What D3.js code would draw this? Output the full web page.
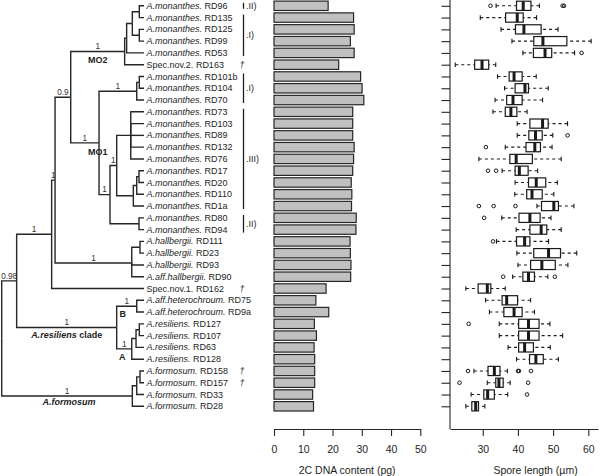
<!DOCTYPE html>
<html>
<head>
<meta charset="utf-8">
<script src="https://cdn.jsdelivr.net/npm/d3@7"></script>
<style>
  body { margin: 0; background: #fff; }
  svg { display: block; font-family: "Liberation Sans", Arial, sans-serif; }
</style>
</head>
<body>
<div id="chart"></div>
<script>
// taxa, top to bottom
const taxonCodes = ["RD96", "RD135", "RD125", "RD99", "RD53", "RD163", "RD101b", "RD104", "RD70",
  "RD73", "RD103", "RD89", "RD132", "RD76", "RD17", "RD20", "RD110", "RD1a", "RD80", "RD94",
  "RD111", "RD23", "RD93", "RD90", "RD162", "RD75", "RD9a", "RD127", "RD107", "RD63", "RD128",
  "RD158", "RD157", "RD33", "RD28"];
const taxonNames = ["A.monanthes.", "A.monanthes.", "A.monanthes.", "A.monanthes.", "A.monanthes.",
  "Spec.nov.2.", "A.monanthes.", "A.monanthes.", "A.monanthes.", "A.monanthes.", "A.monanthes.",
  "A.monanthes.", "A.monanthes.", "A.monanthes.", "A.monanthes.", "A.monanthes.", "A.monanthes.",
  "A.monanthes.", "A.monanthes.", "A.monanthes.", "A.hallbergii.", "A.hallbergii.", "A.hallbergii.",
  "A.aff.hallbergii.", "Spec.nov.1.", "A.aff.heterochroum.", "A.aff.heterochroum.", "A.resiliens.",
  "A.resiliens.", "A.resiliens.", "A.resiliens.", "A.formosum.", "A.formosum.", "A.formosum.",
  "A.formosum."];

// 2C DNA content (pg)
const dnaContent = [18.5, 27.2, 27.4, 26.1, 27.4, 22.1, 29.6, 30.1, 30.7, 26.9, 26.9, 26.9, 27.4,
  27.2, 26.9, 26.4, 26.6, 26.5, 28.1, 28.0, 26.0, 26.1, 26.3, 26.2, 17.8, 14.3, 18.7, 13.8, 14.5,
  13.7, 13.9, 13.9, 13.9, 13.2, 13.5];

// spore length (um) boxplot stats
const sporeLow = [33.8, 29.3, 35.2, 38.3, 41.4, 22.2, 34.2, 36.2, 33.5, 32.9, 39.8, 39.8, 36.4, 28.9,
  35.5, 39.2, 39.1, 45.4, 35.4, 39.5, 33.9, 39.7, 40.0, 38.5, 25.2, 30.8, 31.9, 34.7, 34.7, 37.2,
  39.6, 27.5, 31.3, 26.7, 25.2];
const sporeQ1 = [39.6, 36.5, 39.3, 44.5, 44.4, 27.7, 37.5, 39.2, 36.8, 36.4, 43.4, 43.1, 42.3, 37.7,
  39.2, 43.0, 42.5, 46.7, 40.3, 43.4, 39.6, 44.5, 43.6, 41.4, 28.7, 35.5, 36.0, 40.2, 40.2, 40.2,
  43.3, 31.5, 33.7, 30.3, 26.9];
const sporeMedian = [41.5, 39.8, 41.7, 47.1, 47.7, 29.8, 38.9, 42.0, 38.6, 38.0, 47.0, 45.0, 44.8,
  39.5, 40.4, 45.2, 44.0, 50.2, 43.4, 46.6, 41.9, 48.7, 46.8, 43.0, 31.3, 36.8, 38.9, 43.0, 43.0,
  41.9, 45.1, 33.3, 34.6, 31.4, 28.0];
const sporeQ3 = [43.7, 41.5, 46.6, 53.9, 49.6, 31.7, 41.2, 43.0, 41.2, 39.7, 48.6, 46.9, 46.4, 44.1,
  42.9, 47.9, 46.9, 51.5, 46.3, 48.2, 43.4, 52.1, 50.6, 44.7, 32.3, 39.9, 41.2, 46.0, 46.0, 44.4,
  47.2, 34.9, 35.8, 33.3, 28.8];
const sporeHigh = [46.1, 45.3, 51.4, 60.8, 56.1, 33.7, 45.2, 48.6, 47.0, 42.6, 54.1, 49.9, 49.7, 52.3,
  45.6, 51.2, 50.2, 55.9, 49.4, 52.3, 48.7, 56.7, 54.2, 48.5, 36.4, 43.6, 44.7, 49.1, 52.7, 49.2,
  51.5, 37.0, 37.8, 37.1, 30.6];
const sporeOutliers = [[32.2, 52.7, 53.1], [], [], [], [58.1], [], [], [], [], [], [], [54.1], [30.9],
  [], [31.5, 33.8], [], [], [28.9, 33.1, 39.3], [30.4], [], [32.9], [], [], [35.8, 50.5], [], [], [],
  [26.0], [], [], [], [25.8, 40.0, 40.3, 43.7], [23.4, 42.9], [42.6], []];

// phylogeny: support values as node labels, branch lengths in % of root-to-tip depth
const treeNewick = "(((((((((RD96:3.3,RD135:3.3):4.9,(RD125:3.3,RD99:3.3):4.9):4.0,RD53:12.2):1.4,RD163:13.6)1:37.9," +
  "(((RD101b:3.3,RD104:3.3):1.8,RD70:5.1)1:26.5,(((RD73:9.3,RD103:9.3,RD89:9.3,RD132:9.3,RD76:9.3):9.9," +
  "(((RD17:3.5,RD20:3.5):1.6,RD110:5.1):2.4,RD1a:7.5):11.7)1:4.7,(RD80:3.5,RD94:3.5):20.4)1:7.7)1:19.9)0.9:11.0," +
  "((RD111:2.8,RD23:2.8):5.8,RD93:8.6,RD90:8.6)1:53.9)1:2.4,RD162:64.9)1:24.6," +
  "((RD75:5.1,RD9a:5.1)1:14.1,(((RD127:3.3,RD107:3.3):2.3,RD63:5.6):3.0,RD128:8.6)1:10.6)1:70.3)0.98:10.5," +
  "(((RD158:2.8,RD157:2.8):2.3,RD33:5.1):3.1,RD28:8.2)1:91.8);";

const cladeNames = ["MO2", "MO1", "A.resiliens clade", "A.formosum", "B", "A"];
const cladeFirst = ["RD96", "RD101b", "RD75", "RD158", "RD75", "RD127"];
const cladeLast = ["RD163", "RD94", "RD128", "RD28", "RD9a", "RD128"];

const groupNames = [".II)", ".I)", ".I)", ".III)", ".II)"];
const groupFirst = ["RD96", "RD135", "RD101b", "RD73", "RD80"];
const groupLast = ["RD96", "RD53", "RD70", "RD1a", "RD94"];

const daggerTaxa = ["RD163", "RD162", "RD158", "RD157"];

const dnaTicks = [0, 10, 20, 30, 40, 50];
const sporeTicks = [30, 40, 50, 60];

const width = 600;
const height = 476;
const ink = "#1e1e1e";

const svg = d3.select("#chart").append("svg")
  .attr("width", width)
  .attr("height", height)
  .attr("viewBox", [0, 0, width, height]);

const rowY = d3.scalePoint().domain(taxonCodes).range([5.8, 406.3]);
const treeX = d3.scaleLinear().domain([0, 100]).range([1.7, 144]);
const dnaX = d3.scaleLinear().domain([0, 50]).range([274, 420.3]);
const sporeX = d3.scaleLinear().domain([20.7, 62.75]).range([450, 598]);
const axisY = 429;

// ---- tree ----
const parseNewick = (s) => {
  let i = 0;
  const readNode = () => {
    const n = { children: [] };
    if (s[i] === "(") {
      i++;
      n.children.push(readNode());
      while (s[i] === ",") { i++; n.children.push(readNode()); }
      i++;
    }
    let name = "";
    while (i < s.length && !",():;".includes(s[i])) name += s[i++];
    n.name = name;
    n.length = 0;
    if (s[i] === ":") {
      i++;
      let bl = "";
      while (i < s.length && !",();".includes(s[i])) bl += s[i++];
      n.length = +bl;
    }
    return n;
  };
  return readNode();
};

const root = d3.hierarchy(parseNewick(treeNewick), (d) => (d.children.length ? d.children : null));
root.eachBefore((n) => { n.dist = n.parent ? n.parent.dist + n.data.length : 0; });
root.eachAfter((n) => {
  n.y = n.children ? d3.mean(n.children, (c) => c.y) : rowY(n.data.name);
  n.x = treeX(n.dist);
});

svg.append("g")
  .attr("fill", "none")
  .attr("stroke", "#262626")
  .attr("stroke-width", 1.4)
  .selectAll("path")
  .data(root.descendants().filter((n) => n.parent))
  .join("path")
  .attr("d", (n) => `M${n.parent.x},${n.parent.y}V${n.y}H${n.x}`);

// support values above branches
svg.append("g")
  .attr("font-size", 8.2)
  .attr("fill", "#333")
  .attr("text-anchor", "middle")
  .selectAll("text")
  .data(root.descendants().filter((n) => n.children && n.parent && n.data.name))
  .join("text")
  .attr("x", (n) => (n.parent.x + n.x) / 2)
  .attr("y", (n) => n.y - 2.3)
  .text((n) => n.data.name);

// clade names under branches
const findLeaf = (code) => root.leaves().find((l) => l.data.name === code);
const mrca = (a, b) => findLeaf(a).ancestors().find((n) => n.leaves().includes(findLeaf(b)));
const cladeShift = { "MO2": [0, 12], "MO1": [13, 12], "A.resiliens clade": [0, 10.7],
  "A.formosum": [2, 9], "B": [-4, 10.5], "A": [-2, 11] };

cladeNames.forEach((name, i) => {
  const n = mrca(cladeFirst[i], cladeLast[i]);
  const [dx, dy] = cladeShift[name];
  const t = svg.append("text")
    .attr("x", (n.parent.x + n.x) / 2 + dx)
    .attr("y", n.y + dy)
    .attr("text-anchor", "middle")
    .attr("font-size", 9)
    .attr("font-weight", "bold")
    .attr("fill", ink);
  if (name.startsWith("A.")) {
    const parts = name.split(" ");
    t.append("tspan").attr("font-style", "italic").text(parts[0]);
    if (parts[1]) t.append("tspan").text(" " + parts[1]);
  } else {
    t.text(name);
  }
});

// tip labels
const tipText = svg.append("g")
  .attr("font-size", 9)
  .attr("fill", ink)
  .selectAll("text")
  .data(taxonCodes)
  .join("text")
  .attr("x", 146.5)
  .attr("y", (d) => rowY(d))
  .attr("dy", "0.34em");
tipText.append("tspan")
  .attr("font-style", (d, i) => (taxonNames[i].startsWith("Spec") ? "normal" : "italic"))
  .text((d, i) => taxonNames[i]);
tipText.append("tspan").text((d) => " " + d);

// daggers
svg.append("g")
  .attr("font-size", 9)
  .attr("font-style", "italic")
  .attr("fill", ink)
  .attr("text-anchor", "middle")
  .selectAll("text")
  .data(daggerTaxa)
  .join("text")
  .attr("x", 242)
  .attr("y", (d) => rowY(d))
  .attr("dy", "0.34em")
  .text("\u2020");

// group brackets
const brackets = svg.append("g");
groupNames.forEach((name, i) => {
  const y0 = rowY(groupFirst[i]) - 3;
  const y1 = rowY(groupLast[i]) + 3;
  brackets.append("line")
    .attr("x1", 243.5).attr("x2", 243.5)
    .attr("y1", y0).attr("y2", y1)
    .attr("stroke", ink).attr("stroke-width", 1.3);
  brackets.append("text")
    .attr("x", 246)
    .attr("y", (y0 + y1) / 2)
    .attr("dy", "0.34em")
    .attr("font-size", 9)
    .attr("fill", ink)
    .text(name);
});

// ---- DNA bars ----
svg.append("g")
  .selectAll("rect")
  .data(dnaContent)
  .join("rect")
  .attr("x", dnaX(0))
  .attr("y", (d, i) => rowY(taxonCodes[i]) - 4.7)
  .attr("width", (d) => dnaX(d) - dnaX(0))
  .attr("height", 9.4)
  .attr("fill", "#c0c0c0")
  .attr("stroke", "#262626")
  .attr("stroke-width", 1.2);

const styleAxis = (g) => {
  g.attr("font-family", null).attr("font-size", 10.5);
  g.selectAll("path, line").attr("stroke", "#262626").attr("stroke-width", 1.1);
  g.selectAll("text").attr("fill", ink);
};

svg.append("g")
  .attr("transform", `translate(0,${axisY})`)
  .call(d3.axisBottom(dnaX).tickValues(dnaTicks).tickSize(7).tickSizeOuter(0).tickPadding(10))
  .call(styleAxis);

svg.append("text")
  .attr("x", (dnaX(0) + dnaX(50)) / 2)
  .attr("y", 474)
  .attr("text-anchor", "middle")
  .attr("font-size", 10.5)
  .attr("fill", ink)
  .text("2C DNA content (pg)");

// ---- spore boxplots ----
svg.append("g")
  .attr("transform", `translate(0,${axisY})`)
  .call(d3.axisBottom(sporeX).tickValues(sporeTicks).tickSize(7).tickSizeOuter(0).tickPadding(10))
  .call(styleAxis);

svg.append("line")
  .attr("x1", sporeX.range()[0]).attr("x2", sporeX.range()[0])
  .attr("y1", 0).attr("y2", axisY)
  .attr("stroke", "#262626").attr("stroke-width", 1.1);

svg.append("g")
  .attr("transform", `translate(${sporeX.range()[0]},0)`)
  .call(d3.axisLeft(rowY).tickSize(8.5).tickFormat(""))
  .call((g) => g.select(".domain").remove())
  .call(styleAxis);

svg.append("text")
  .attr("x", (sporeX(30) + sporeX(60)) / 2)
  .attr("y", 474)
  .attr("text-anchor", "middle")
  .attr("font-size", 10.5)
  .attr("fill", ink)
  .text("Spore length (\u00b5m)");

const boxes = taxonCodes.map((code, i) => ({
  y: rowY(code), lo: sporeLow[i], q1: sporeQ1[i], med: sporeMedian[i],
  q3: sporeQ3[i], hi: sporeHigh[i], out: sporeOutliers[i],
}));

const box = svg.append("g")
  .attr("stroke", "#1a1a1a")
  .attr("fill", "none")
  .selectAll("g")
  .data(boxes)
  .join("g");

box.append("path")
  .attr("stroke-width", 1.1)
  .attr("stroke-dasharray", "3,3")
  .attr("d", (d) => `M${sporeX(d.lo)},${d.y}H${sporeX(d.q1)}M${sporeX(d.hi)},${d.y}H${sporeX(d.q3)}`);

box.append("path")
  .attr("stroke-width", 1.1)
  .attr("d", (d) => `M${sporeX(d.lo)},${d.y - 2.3}V${d.y + 2.3}M${sporeX(d.hi)},${d.y - 2.3}V${d.y + 2.3}`);

box.append("rect")
  .attr("x", (d) => sporeX(d.q1))
  .attr("y", (d) => d.y - 4.6)
  .attr("width", (d) => sporeX(d.q3) - sporeX(d.q1))
  .attr("height", 9.2)
  .attr("fill", "#fff")
  .attr("stroke-width", 1.2);

box.append("line")
  .attr("x1", (d) => sporeX(d.med))
  .attr("x2", (d) => sporeX(d.med))
  .attr("y1", (d) => d.y - 4.6)
  .attr("y2", (d) => d.y + 4.6)
  .attr("stroke-width", 3);

box.selectAll("circle")
  .data((d) => d.out.map((v) => ({ v, y: d.y })))
  .join("circle")
  .attr("cx", (o) => sporeX(o.v))
  .attr("cy", (o) => o.y)
  .attr("r", 1.8)
  .attr("stroke-width", 1);
</script>
</body>
</html>
